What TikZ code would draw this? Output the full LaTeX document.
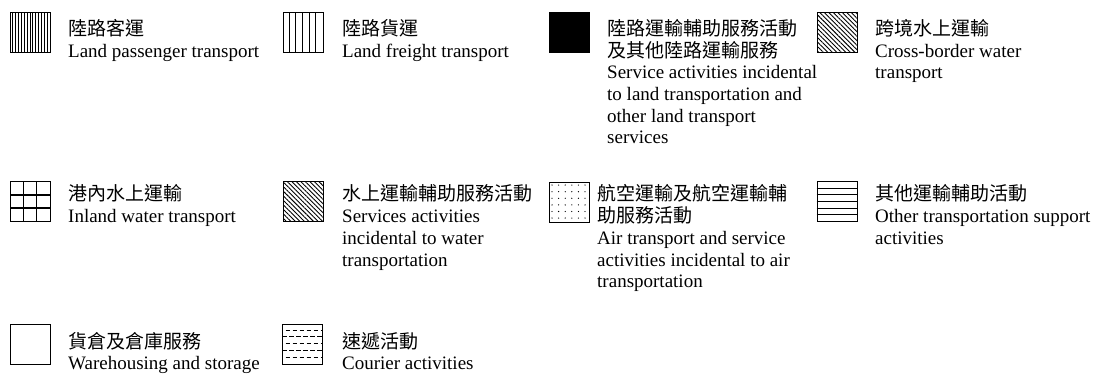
\documentclass[tikz,border=0pt]{standalone}
\usepackage{fontspec}
\setmainfont{Liberation Serif}
\newfontfamily\cjk{Noto Sans CJK TC}
\usetikzlibrary{patterns.meta}
\tikzset{
  legbox/.style={draw, line width=1pt, minimum width=40pt, minimum height=40pt, inner sep=0pt},
  legtext/.style={anchor=base west, align=left, inner sep=0pt, font=\fontsize{19}{21.7}\selectfont},
  hatch/.style={line width=0.9pt},
}
\begin{document}
\begin{tikzpicture}[x=1pt,y=-1pt]
\useasboundingbox (0,0) rectangle (1098,374);
% first row (text nodes sit on the baseline of their last line)
\node[legbox] (pass) at (30.5,33) {};
\foreach \i in {1,...,13}
  \draw[hatch] ([xshift=\i*2.85pt]pass.north west) -- ([xshift=\i*2.85pt]pass.south west);
\node[legtext] (passtxt) at (68,57.2) {{\cjk 陸路客運}\\Land passenger transport};

\node[legbox] (freight) at (303,33) {};
\foreach \i in {1,...,5}
  \draw[hatch] ([xshift=\i*6.67pt]freight.north west) -- ([xshift=\i*6.67pt]freight.south west);
\node[legtext] (freighttxt) at (342,57.2) {{\cjk 陸路貨運}\\Land freight transport};

\node[legbox, fill=black] (landsvc) at (569,33) {};
\node[legtext] (landsvctxt) at (607,144) {{\cjk 陸路運輸輔助服務活動}\\{\cjk 及其他陸路運輸服務}\\Service activities incidental\\to land transportation and\\other land transport\\services};

\node[legbox, pattern={Lines[angle=-45,distance=3.2pt,line width=0.9pt]}] (cross) at (837,33) {};
\node[legtext] (crosstxt) at (875,78.9) {{\cjk 跨境水上運輸}\\Cross-border water\\transport};

% second row
\node[legbox] (inland) at (30.5,202) {};
\foreach \i in {1,2}
  \draw[line width=1.6pt] ([xshift=\i*13.33pt]inland.north west) -- ([xshift=\i*13.33pt]inland.south west)
    ([yshift=-\i*13.33pt]inland.north west) -- ([yshift=-\i*13.33pt]inland.north east);
\node[legtext] (inlandtxt) at (68,222.7) {{\cjk 港內水上運輸}\\Inland water transport};

\node[legbox, pattern={Lines[angle=-45,distance=3.2pt,line width=0.9pt]}] (watersvc) at (303,202) {};
\node[legtext] (watersvctxt) at (342,266.1) {{\cjk 水上運輸輔助服務活動}\\Services activities\\incidental to water\\transportation};

\node[legbox, line width=0.8pt] (air) at (569,202) {};
\foreach \r in {0,...,5}
  \foreach \c in {0,...,5}
    \fill ([xshift={3.4pt+\c*6.6pt}, yshift={-3.5pt-\r*6.6pt}]air.north west) circle (0.65pt);
\node[legtext] (airtxt) at (597,287.8) {{\cjk 航空運輸及航空運輸輔}\\{\cjk 助服務活動}\\Air transport and service\\activities incidental to air\\transportation};

\node[legbox] (other) at (837,202) {};
\foreach \i in {1,...,5}
  \draw[hatch] ([yshift=-\i*6.67pt]other.north west) -- ([yshift=-\i*6.67pt]other.north east);
\node[legtext] (othertxt) at (875,244.4) {{\cjk 其他運輸輔助活動}\\Other transportation support\\activities};

% third row
\node[legbox, line width=0.8pt] (store) at (30.5,344) {};
\node[legtext] (storetxt) at (68,369.7) {{\cjk 貨倉及倉庫服務}\\Warehousing and storage};

\node[legbox, line width=0.8pt] (courier) at (302.5,344) {};
\foreach \i in {1,...,5}
  \draw[hatch, dash pattern=on 4.5pt off 2.5pt, dash phase={mod(\i,2)*3.5pt}]
    ([yshift=-\i*6.67pt]courier.north west) -- ([yshift=-\i*6.67pt]courier.north east);
\node[legtext] (couriertxt) at (342,369.7) {{\cjk 速遞活動}\\Courier activities};
\end{tikzpicture}
\end{document}
